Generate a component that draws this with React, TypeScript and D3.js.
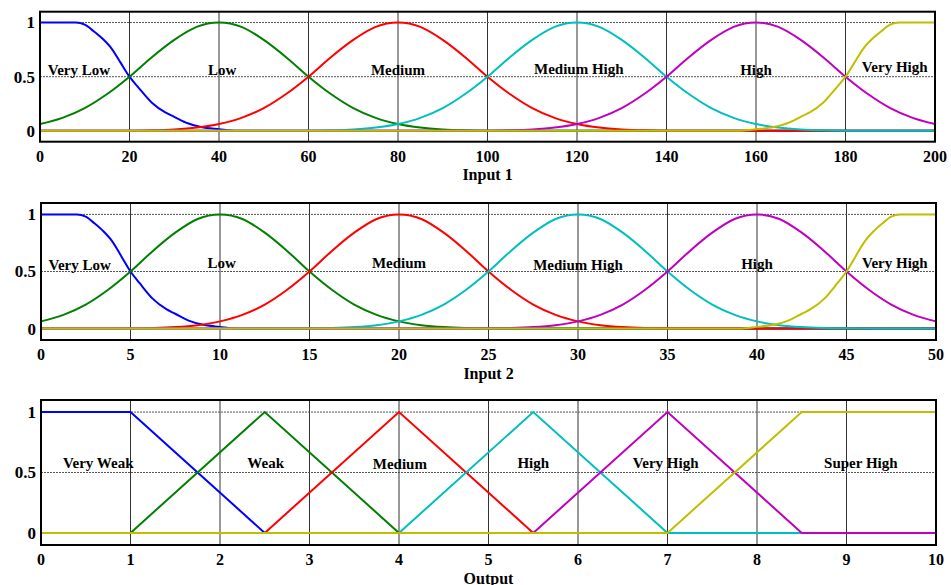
import React from "react";
import * as d3 from "d3";

// membership function names
const inputNames = ["Very Low", "Low", "Medium", "Medium High", "High", "Very High"];
const outputNames = ["Very Weak", "Weak", "Medium", "High", "Very High", "Super High"];

// axis ticks
const input1Ticks = [0, 20, 40, 60, 80, 100, 120, 140, 160, 180, 200];
const input2Ticks = [0, 5, 10, 15, 20, 25, 30, 35, 40, 45, 50];
const outputTicks = [0, 1, 2, 3, 4, 5, 6, 7, 8, 9, 10];
const yTicks = [0, 0.5, 1];

// centres of the four middle bell curves
const input1Centers = [40, 80, 120, 160];
const input2Centers = [10, 20, 30, 40];

// bell shape: offset from centre (in centre spacings) -> membership
const bellOffsets = [0, 0.125, 0.25, 0.375, 0.5, 0.625, 0.75, 0.875, 1, 1.125, 1.25, 1.375, 1.5, 1.75];
const bellValues = [1, 0.96, 0.84, 0.68, 0.5, 0.34, 0.21, 0.12, 0.063, 0.03, 0.013, 0.005, 0.002, 0];

// left shoulder ("Very Low"); "Very High" is the same shape from the right end
const shoulderOffsets = [0, 0.2, 0.25, 0.3, 0.35, 0.4, 0.45, 0.5, 0.55, 0.625, 0.7, 0.75, 0.825, 0.9, 1, 1.1];
const shoulderValues = [1, 1, 0.98, 0.92, 0.85, 0.76, 0.63, 0.5, 0.4, 0.26, 0.17, 0.13, 0.07, 0.035, 0.015, 0];

// output trapezoids [a, b, c, d]
const outputParams = [
  [0, 0, 1, 2.5],
  [1, 2.5, 2.5, 4],
  [2.5, 4, 4, 5.5],
  [4, 5.5, 5.5, 7],
  [5.5, 7, 7, 8.5],
  [7, 8.5, 10, 10],
];

// label positions (data units)
const input1LabelX = [8.7, 40.7, 80, 120.4, 160, 191];
const input1LabelY = [0.56, 0.56, 0.56, 0.57, 0.56, 0.59];
const input2LabelX = [2.16, 10.1, 20, 30, 40, 47.7];
const input2LabelY = [0.56, 0.58, 0.58, 0.56, 0.57, 0.58];
const outputLabelX = [0.64, 2.51, 4.01, 5.5, 6.98, 9.16];
const outputLabelY = [0.58, 0.58, 0.57, 0.58, 0.58, 0.58];

const colors = ["#0000ff", "#008000", "#ff0000", "#00bfbf", "#bf00bf", "#bfbf00"];

type Pt = [number, number];

const bellPoints = (c: number, sp: number, lo: number, hi: number): Pt[] => {
  const left: Pt[] = bellOffsets.map((o, i) => [c - o * sp, bellValues[i]] as Pt).reverse();
  const right: Pt[] = bellOffsets.slice(1).map((o, i) => [c + o * sp, bellValues[i + 1]] as Pt);
  let pts = left.concat(right).filter((p) => p[0] >= lo && p[0] <= hi);
  if (pts[0][0] > lo) pts = [[lo, 0] as Pt].concat(pts);
  if (pts[pts.length - 1][0] < hi) pts.push([hi, 0]);
  return pts;
};

const shoulderPoints = (sp: number, lo: number, hi: number, fromRight: boolean): Pt[] => {
  if (!fromRight) {
    const pts: Pt[] = shoulderOffsets.map((o, i) => [lo + o * sp, shoulderValues[i]] as Pt);
    pts.push([hi, 0]);
    return pts;
  }
  const pts: Pt[] = shoulderOffsets.map((o, i) => [hi - o * sp, shoulderValues[i]] as Pt).reverse();
  return [[lo, 0] as Pt].concat(pts);
};

const trap = (x: number, p: number[]) => {
  const [a, b, c, d] = p;
  if (x < a || x > d) return 0;
  if (x >= b && x <= c) return 1;
  if (x < b) return (x - a) / (b - a);
  return (d - x) / (d - c);
};

const trapPoints = (p: number[], lo: number, hi: number): Pt[] => {
  const xs = Array.from(new Set([lo, ...p, hi])).sort((a, b) => a - b);
  return xs.map((x) => [x, trap(x, p)] as Pt);
};

type PanelProps = {
  left: number; right: number; top: number; bottom: number;
  domain: [number, number]; ticks: number[]; title: string;
  curves: Pt[][]; smooth: boolean; names: string[]; labelX: number[]; labelY: number[];
};

const Panel = ({ left, right, top, bottom, domain, ticks, title, curves, smooth, names, labelX, labelY }: PanelProps) => {
  const x = d3.scaleLinear().domain(domain).range([left, right]);
  const y = d3.scaleLinear().domain([-0.1, 1.1]).range([bottom, top]);
  const line = d3
    .line<Pt>()
    .x((d) => x(d[0]))
    .y((d) => y(d[1]))
    .curve(smooth ? d3.curveMonotoneX : d3.curveLinear);

  return (
    <g>
      {ticks.slice(1, -1).map((t) => (
        <line key={"v" + t} x1={x(t)} x2={x(t)} y1={top} y2={bottom} stroke="#333" strokeWidth={1} />
      ))}
      {yTicks.map((t) => (
        <line key={"h" + t} x1={left} x2={right} y1={y(t)} y2={y(t)} stroke="#555" strokeWidth={1} strokeDasharray="2,1" />
      ))}
      {curves.map((c, i) => (
        <path key={i} d={line(c) || ""} fill="none" stroke={colors[i]} strokeWidth={2} />
      ))}
      {names.map((n, i) => (
        <text key={n + i} x={x(labelX[i])} y={y(labelY[i])} dy="0.35em" textAnchor="middle" fontSize={15}>
          {n}
        </text>
      ))}
      <rect x={left} y={top} width={right - left} height={bottom - top} fill="none" stroke="#000" strokeWidth={2} />
      {yTicks.map((t) => (
        <text key={"yl" + t} x={left - 5} y={y(t)} dy="0.35em" textAnchor="end" fontSize={17}>
          {t}
        </text>
      ))}
      {ticks.map((t) => (
        <text key={"xl" + t} x={x(t)} y={bottom + 20} textAnchor="middle" fontSize={16}>
          {t}
        </text>
      ))}
      <text x={(left + right) / 2} y={bottom + 38.5} textAnchor="middle" fontSize={16}>
        {title}
      </text>
    </g>
  );
};

const makeInputCurves = (centers: number[], sp: number, lo: number, hi: number): Pt[][] => [
  shoulderPoints(sp, lo, hi, false),
  ...centers.map((c) => bellPoints(c, sp, lo, hi)),
  shoulderPoints(sp, lo, hi, true),
];

export default function App() {
  const c1 = makeInputCurves(input1Centers, 40, 0, 200);
  const c2 = makeInputCurves(input2Centers, 10, 0, 50);
  const c3 = outputParams.map((p) => trapPoints(p, 0, 10));

  return (
    <svg
      width={951}
      height={585}
      style={{ position: "absolute", left: 0, top: 0, background: "#fff" }}
      fontFamily="'Liberation Serif', 'Times New Roman', serif"
      fontWeight="bold"
    >
      <Panel left={40} right={935} top={11.7} bottom={141.7} domain={[0, 200]} ticks={input1Ticks} title="Input 1"
        curves={c1} smooth names={inputNames} labelX={input1LabelX} labelY={input1LabelY} />
      <Panel left={41} right={936} top={203} bottom={340} domain={[0, 50]} ticks={input2Ticks} title="Input 2"
        curves={c2} smooth names={inputNames} labelX={input2LabelX} labelY={input2LabelY} />
      <Panel left={41} right={936} top={400} bottom={545} domain={[0, 10]} ticks={outputTicks} title="Output"
        curves={c3} smooth={false} names={outputNames} labelX={outputLabelX} labelY={outputLabelY} />
    </svg>
  );
}
